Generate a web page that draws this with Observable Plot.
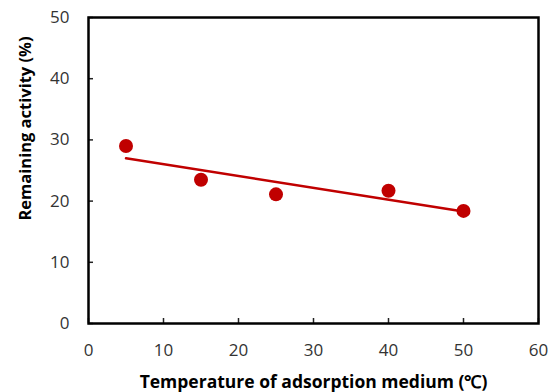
<!DOCTYPE html>
<html>
<head>
<meta charset="utf-8">
<script src="https://cdn.jsdelivr.net/npm/d3@7"></script>
<script src="https://cdn.jsdelivr.net/npm/@observablehq/plot@0.6"></script>
<style>
  html, body { margin: 0; padding: 0; background: #fff; }
  #chart { width: 556px; height: 392px; }
</style>
</head>
<body>
<div id="chart"></div>
<script>
const temperatures = [5, 15, 25, 40, 50];
const activities = [29.0, 23.5, 21.1, 21.7, 18.4];
const xTicks = [0, 10, 20, 30, 40, 50, 60];
const yTicks = [0, 10, 20, 30, 40, 50];
const xTitle = "Temperature of adsorption medium (℃)";
const yTitle = "Remaining activity (%)";

const data = temperatures.map((t, i) => ({t, a: activities[i]}));
const red = "#c00000";

const chart = Plot.plot({
  width: 556,
  height: 392,
  marginLeft: 88,
  marginRight: 18,
  marginTop: 17,
  marginBottom: 69,
  style: {fontFamily: "'Open Sans', sans-serif", fontSize: "17px", color: "#222", background: "#fff"},
  x: {domain: [0, 60]},
  y: {domain: [0, 50]},
  marks: [
    Plot.axisX({ticks: xTicks, tickSize: -5, tickPadding: 25, label: null, strokeWidth: 1.5, fill: "#333"}),
    Plot.axisY({ticks: yTicks, tickSize: -5, tickPadding: 24, label: null, strokeWidth: 1.5, fill: "#333"}),
    Plot.linearRegressionY(data, {x: "t", y: "a", ci: 0, stroke: red, strokeWidth: 2.5}),
    Plot.dot(data, {x: "t", y: "a", r: 7, fill: red, stroke: "none"}),
    Plot.frame({stroke: "#000", strokeWidth: 2.5}),
    Plot.text([xTitle], {frameAnchor: "bottom", dy: 59, text: d => d, fontSize: 17.5, fontWeight: "bold", fill: "#000", lineAnchor: "middle", textAnchor: "middle", dx: 0}),
    Plot.text([yTitle], {frameAnchor: "left", dx: -63, dy: -42, text: d => d, rotate: -90, fontSize: 16.5, fontWeight: "bold", fill: "#000", lineAnchor: "middle", textAnchor: "middle"})
  ]
});
document.getElementById("chart").appendChild(chart);
</script>
</body>
</html>
